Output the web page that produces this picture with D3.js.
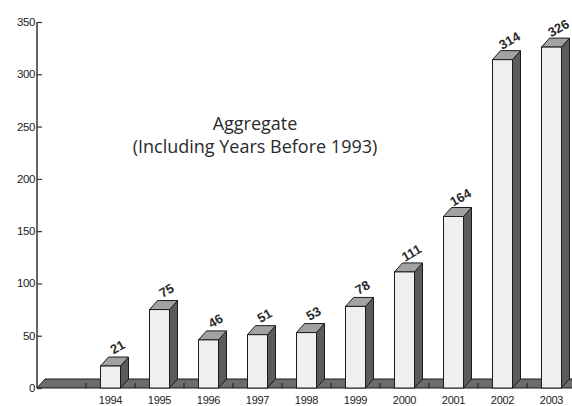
<!DOCTYPE html>
<html>
<head>
<meta charset="utf-8">
<script src="https://cdn.jsdelivr.net/npm/d3@7"></script>
<style>
  html, body { margin: 0; padding: 0; background: #fff; }
  svg { display: block; }
</style>
</head>
<body>
<svg id="chart" width="572" height="406"></svg>
<script>
// Yearly counts; the first slot is an empty, unlabelled position on the floor.
const years  = ["", "1994", "1995", "1996", "1997", "1998", "1999", "2000", "2001", "2002", "2003"];
const counts = [null, 21, 75, 46, 51, 53, 78, 111, 164, 314, 326];
const yTicks = [0, 50, 100, 150, 200, 250, 300, 350];
const titleLines = ["Aggregate", "(Including Years Before 1993)"];

const svg = d3.select("#chart");
const W = 572, H = 406;

const x = d3.scaleBand().domain(years).range([37, 576]).padding(0);
const y = d3.scaleLinear().domain([0, 350]).range([388, 22]);

const DX = 8, DY = 9;          // 3-D depth offset
const barW = 20;               // width of each bar's front face
const stroke = "#1b1b1b";

// Floor slab
const y0 = y(0);
svg.append("polygon")
  .attr("points", [[37, y0], [37 + DX, y0 - DY], [W + 20, y0 - DY], [W + 20, y0]].map(p => p.join(",")).join(" "))
  .attr("fill", "#6c6c6c")
  .attr("stroke", stroke)
  .attr("stroke-width", 1);

// Floor category dividers
svg.append("g").selectAll("line")
  .data(years.slice(1))
  .join("line")
  .attr("x1", d => x(d)).attr("x2", d => x(d))
  .attr("y1", y0).attr("y2", y0 - 5)
  .attr("stroke", stroke).attr("stroke-width", 1);

// Bars
const bars = svg.append("g").selectAll("g")
  .data(years.map((yr, i) => ({ yr, v: counts[i] })).filter(d => d.v != null))
  .join("g");

bars.each(function (d) {
  const g = d3.select(this);
  const cx = x(d.yr) + x.bandwidth() / 2;
  const x0 = cx - barW / 2, x1 = cx + barW / 2;
  const yt = y(d.v);
  const pts = a => a.map(p => p.join(",")).join(" ");
  // right side face
  g.append("polygon")
    .attr("points", pts([[x1, yt], [x1 + DX, yt - DY], [x1 + DX, y0 - DY], [x1, y0]]))
    .attr("fill", "#5b5b5b").attr("stroke", stroke).attr("stroke-width", 1)
    .attr("stroke-linejoin", "round");
  // top face
  g.append("polygon")
    .attr("points", pts([[x0, yt], [x0 + DX, yt - DY], [x1 + DX, yt - DY], [x1, yt]]))
    .attr("fill", "#a2a2a2").attr("stroke", stroke).attr("stroke-width", 1)
    .attr("stroke-linejoin", "round");
  // front face
  g.append("rect")
    .attr("x", x0).attr("y", yt)
    .attr("width", barW).attr("height", y0 - yt)
    .attr("fill", "#efefef").attr("stroke", stroke).attr("stroke-width", 1);
  // value label, tilted
  const lx = cx + 7, ly = yt - 19;
  g.append("text")
    .attr("transform", `translate(${lx},${ly}) rotate(-30)`)
    .attr("text-anchor", "middle")
    .attr("dominant-baseline", "central")
    .attr("font-family", "Liberation Sans, Arial, sans-serif")
    .attr("font-weight", "bold")
    .attr("font-size", 13)
    .attr("fill", "#2a2a2a")
    .text(d.v);
});

// Y axis
const yAxis = d3.axisRight(y).tickValues(yTicks).tickSize(5).tickFormat("");
const ya = svg.append("g").attr("transform", "translate(37,0)").call(yAxis);
ya.select(".domain").attr("d", `M0,${y(350)}V${y0}`).attr("stroke", "#333").attr("stroke-width", 1.5);
ya.selectAll(".tick line").attr("stroke", "#333").attr("stroke-width", 1.2);

svg.append("g").selectAll("text")
  .data(yTicks)
  .join("text")
  .attr("x", 35).attr("y", d => y(d))
  .attr("text-anchor", "end")
  .attr("dominant-baseline", "central")
  .attr("font-family", "Liberation Sans, Arial, sans-serif")
  .attr("font-size", 11.5)
  .attr("letter-spacing", -0.4)
  .attr("fill", "#222")
  .text(d => d);

// X axis labels
const xAxis = d3.axisBottom(x).tickSize(0).tickPadding(0);
const xa = svg.append("g").attr("transform", `translate(0,${y0})`).call(xAxis);
xa.select(".domain").remove();
xa.selectAll(".tick text")
  .attr("y", 16)
  .attr("dy", null)
  .attr("font-family", "Liberation Sans, Arial, sans-serif")
  .attr("font-size", 11)
  .attr("letter-spacing", -0.3)
  .attr("fill", "#222");

// Title annotation
svg.append("g").selectAll("text")
  .data(titleLines)
  .join("text")
  .attr("x", 255)
  .attr("y", (d, i) => 130 + i * 23)
  .attr("text-anchor", "middle")
  .attr("font-family", "Open Sans, Noto Sans, sans-serif")
  .attr("font-size", 18)
  .attr("fill", "#2a2a2a")
  .text(d => d);
</script>
</body>
</html>
